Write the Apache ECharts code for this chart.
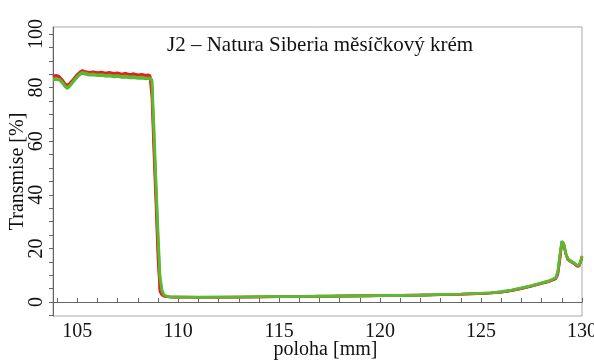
<!DOCTYPE html>
<html>
<head>
<meta charset="utf-8">
<script src="https://cdn.jsdelivr.net/npm/echarts@6/dist/echarts.min.js"></script>
<style>
html,body{margin:0;padding:0;background:#fff;}
#chart{width:594px;height:360px;}
</style>
</head>
<body>
<div id="chart"></div>
<script>
const titleText = 'J2 – Natura Siberia měsíčkový krém';
const xName = 'poloha [mm]';
const yName = 'Transmise [%]';
const xTickValues = [104,105,106,107,108,109,110,111,112,113,114,115,116,117,118,119,120,121,122,123,124,125,126,127,128,129,130];
const xLabelValues = [105,110,115,120,125,130];
const yTickValues = [-5,0,5,10,15,20,25,30,35,40,45,50,55,60,65,70,75,80,85,90,95,100];
const yLabelValues = [0,20,40,60,80,100];

const xs = [103.8,103.95,104.1,104.25,104.4,104.5,104.6,104.8,
  105.0,105.15,105.25,105.4,105.6,105.8,
  106.0,106.2,106.4,106.6,106.8,107.0,
  107.2,107.4,107.6,107.8,108.0,108.2,108.4,108.5,
  108.6,108.7,108.8,108.9,109.0,109.1,109.2,109.3,109.45,109.6,
  109.8,110,
  111,112,113,114,115,116,117,118,119,120,
  121,122,123,124,125,125.5,126,126.5,127,127.5,
  128,128.4,128.7,128.8,128.9,129.0,
  129.05,129.1,129.2,129.3,129.45,129.6,129.75,129.85,129.95,130];

const redA = [84.3,84.6,84.2,83.0,81.4,80.9,81.4,83.1,
  84.9,85.9,86.4,86.0,85.7,85.9,
  85.6,85.8,85.4,85.7,85.3,85.5,
  85.1,85.4,84.9,85.2,84.8,85.0,84.6,84.8,
  84.5,80,59,40,20,4.5,2.8,2.3,2.0,1.9,
  1.9,1.9,
  1.8,1.8,1.9,1.9,2.0,2.1,2.1,2.2,2.3,2.4,
  2.5,2.6,2.7,2.9,3.2,3.4,3.7,4.3,5.1,6.0,
  7.0,7.8,8.8,10.5,16,22.3,
  22.8,21.5,18,16,15.2,14.5,13.6,13.5,15.5,17];

const redB = [84.0,84.2,84.0,82.6,81.0,80.5,81.0,82.7,
  84.5,85.5,86.0,85.7,85.3,85.5,
  85.2,85.4,85.0,85.3,84.9,85.1,
  84.7,85.0,84.6,84.8,84.4,84.6,84.3,84.4,
  84.2,76,55,36,16,3.8,2.6,2.2,2.0,1.9,
  1.8,1.8,
  1.8,1.8,1.8,1.9,2.0,2.0,2.1,2.2,2.3,2.4,
  2.5,2.6,2.7,2.9,3.1,3.4,3.7,4.2,5.0,5.9,
  6.9,7.7,8.7,10.2,15.5,22.0,
  22.5,21.2,17.8,15.8,15.0,14.3,13.4,13.3,15.3,16.8];

const greenA = [82.8,83.0,82.8,81.8,80.3,79.6,80.2,82.0,
  83.8,84.9,85.3,85.0,84.6,84.7,
  84.4,84.5,84.2,84.3,84.0,84.1,
  83.8,83.9,83.6,83.7,83.4,83.5,83.2,83.3,
  83.3,82.5,62,43,24,8.5,4.0,2.6,2.1,1.9,
  1.9,1.9,
  1.8,1.9,1.9,2.0,2.0,2.1,2.2,2.2,2.3,2.4,
  2.5,2.6,2.8,3.0,3.3,3.5,3.8,4.4,5.2,6.1,
  7.1,7.9,9.0,11,17,22.8,
  23.0,21.8,18.2,16.2,15.4,14.7,13.8,13.7,15.8,17.2];

const greenB = [83.3,83.4,83.2,82.2,80.7,80.1,80.6,82.4,
  84.2,85.3,85.7,85.4,85.0,85.1,
  84.8,84.9,84.6,84.7,84.4,84.5,
  84.2,84.3,84.0,84.1,83.8,83.9,83.6,83.7,
  83.6,83.0,66,46,27,10,4.5,2.7,2.2,2.0,
  1.9,1.9,
  1.9,1.9,1.9,2.0,2.1,2.1,2.2,2.3,2.3,2.4,
  2.5,2.6,2.8,3.0,3.3,3.5,3.9,4.5,5.3,6.2,
  7.2,8.0,9.2,11.5,17.5,22.6,
  22.9,21.6,18.0,16.0,15.3,14.6,13.7,13.6,15.6,17.0];

const RED = '#e3221c';
const GREEN = '#5db832';
const FONT = 'Liberation Serif';

function pairs(ys){ return xs.map((x,i)=>[x, ys[i]]); }
function line(name, ys, color){
  return {name, type:'line', data:pairs(ys), showSymbol:false, smooth:false,
    lineStyle:{color, width:2.6}, itemStyle:{color}, silent:true, animation:false};
}
const labelRich = {t:{fontFamily:FONT, fontSize:20, color:'#111'}};

const chart = echarts.init(document.getElementById('chart'), null, {renderer:'canvas'});
chart.setOption({
  animation:false,
  backgroundColor:'#fff',
  textStyle:{fontFamily:FONT},
  grid:{left:53, right:12, top:27, bottom:44, containLabel:false, outerBoundsMode:'none',
    show:true, borderColor:'#a8a8a8', borderWidth:1, backgroundColor:'transparent'},
  graphic:[{type:'text', left:167, top:35, style:{text:titleText, font:'21px "Liberation Serif"', fill:'#111'}}],
  xAxis:{type:'value', min:103.8, max:130,
    name:xName, nameLocation:'middle', nameGap:24, nameMoveOverlap:false,
    nameTextStyle:{fontFamily:FONT, fontSize:20, color:'#111', padding:[0,0,0,16]},
    axisLine:{show:true, lineStyle:{color:'#666', width:1}},
    axisTick:{show:true, inside:true, length:4, customValues:xTickValues, lineStyle:{color:'#666'}},
    axisLabel:{customValues:xLabelValues, fontFamily:FONT, fontSize:20, color:'#111', margin:6,
      formatter:'{t|{value}}', rich:labelRich},
    splitLine:{show:false}},
  yAxis:{type:'value', min:-5.2, max:102.6,
    name:yName, nameLocation:'middle', nameGap:25, nameMoveOverlap:false,
    nameTextStyle:{fontFamily:FONT, fontSize:20, color:'#111'},
    axisLine:{show:true, lineStyle:{color:'#666', width:1}},
    axisTick:{show:true, inside:false, length:4, customValues:yTickValues, lineStyle:{color:'#666'}},
    axisLabel:{customValues:yLabelValues, rotate:90, fontFamily:FONT, fontSize:20, color:'#111', margin:6,
      formatter:'{t|{value}}', rich:labelRich},
    splitLine:{show:false}},
  series:[line('r1', redA, RED), line('r2', redB, RED), line('g1', greenA, GREEN), line('g2', greenB, GREEN)]
});
</script>
</body>
</html>
